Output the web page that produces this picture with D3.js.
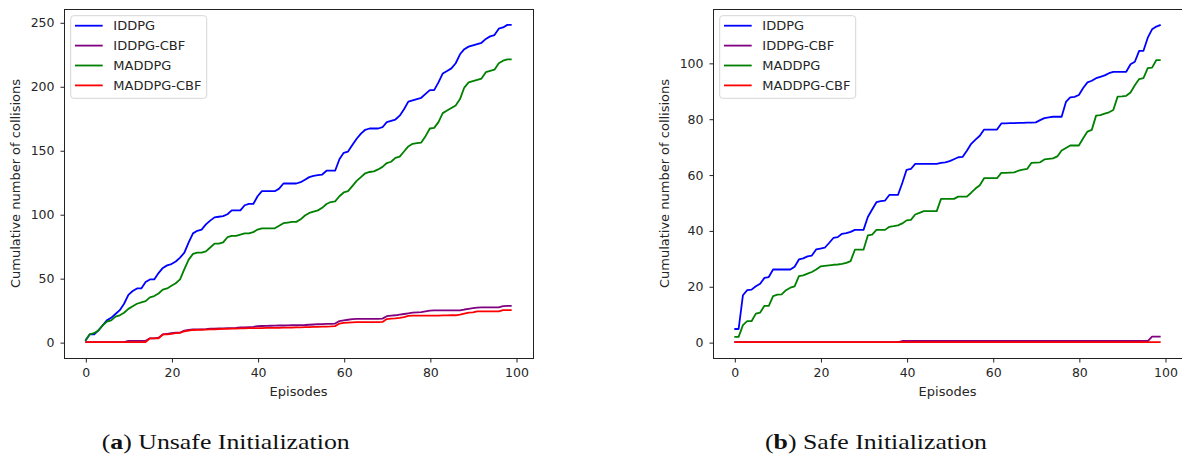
<!DOCTYPE html>
<html>
<head>
<meta charset="utf-8">
<script src="https://cdn.jsdelivr.net/npm/d3@7"></script>
<style>
  html, body { margin: 0; padding: 0; background: #fff; }
  svg { display: block; }
</style>
</head>
<body>
<svg id="chart" width="1182" height="455"></svg>
<script>
// Cumulative number of collisions per episode, four methods, two initialisations.
const seriesNames = ["IDDPG", "IDDPG-CBF", "MADDPG", "MADDPG-CBF"];
const seriesColors = ["#0000ff", "#800080", "#008000", "#ff0000"];

// (a) Unsafe initialisation
const unsafeIDDPG = [
  1, 6, 6, 9, 13, 17, 19, 22, 25, 30,
  37, 40, 42, 42, 47, 49, 49, 54, 58, 60,
  61, 63, 66, 70, 78, 85, 87, 88, 92, 95,
  97.5, 98, 98.5, 100, 103, 103, 103, 107, 108, 108,
  114, 118, 118, 118, 118, 120, 124, 124, 124, 124,
  125, 127, 129, 130, 130.5, 131, 134, 134, 134, 143,
  148, 149, 154, 159, 163, 166, 167, 167, 167, 168,
  172, 173, 174, 177, 182, 188, 189, 190, 191, 194,
  197, 197, 203, 210, 212, 214, 218, 225, 229, 231,
  232, 233, 234, 237, 239, 240, 245, 246, 248, 248
];
const unsafeIDDPGCBF = [
  0, 0, 0, 0, 0, 0, 0, 0, 0, 0,
  1, 1, 1, 1, 1, 3, 3, 3.5, 6, 6.5,
  7, 7.5, 7.5, 9, 9.5, 10, 10, 10, 10.2, 10.5,
  10.5, 10.7, 10.8, 11, 11, 11.2, 11.5, 11.5, 11.8, 12,
  12.5, 12.6, 12.7, 12.8, 12.9, 13, 13, 13.1, 13.2, 13.2,
  13.3, 13.4, 13.6, 13.8, 14, 14.1, 14.2, 14.3, 14.5, 16.5,
  17, 17.5, 18, 18.2, 18.2, 18.2, 18.2, 18.2, 18.2, 18.4,
  20.3, 20.8, 21, 21.5, 22, 22.5, 23, 23.2, 23.4, 24,
  24.6, 24.8, 24.8, 24.8, 24.8, 24.8, 24.8, 24.8, 25.5, 26,
  26.5, 27, 27.2, 27.2, 27.2, 27.2, 27.2, 28.2, 28.4, 28.4
];
const unsafeMADDPG = [
  1, 6, 7, 9, 13, 16, 17, 20, 21, 23,
  26, 28, 30, 31, 32, 35, 36, 38, 41, 42,
  44, 46, 49, 57, 64.5, 69, 70, 70, 71, 74,
  77, 77, 78, 82, 83, 83, 84, 85, 85, 86,
  88, 89, 89, 89, 89, 91, 93, 93.5, 94, 94,
  96, 99, 101, 102, 103, 105, 108, 109.5, 110, 114,
  117, 118, 122, 126, 129, 132, 133, 133.5, 135, 137,
  140, 141, 144, 145, 149, 153, 155, 155.5, 156, 161,
  167, 167.5, 172, 179, 181, 183, 185, 190, 199, 203,
  204, 205, 206, 211, 212, 213, 218, 220, 221, 221
];
const unsafeMADDPGCBF = [
  0, 0, 0, 0, 0, 0, 0, 0, 0, 0,
  0, 0, 0, 0, 0, 3, 3, 3, 6, 6,
  6.5, 7, 7.3, 8.5, 9, 9.5, 9.6, 9.7, 9.8, 9.9,
  10, 10.2, 10.3, 10.4, 10.5, 10.6, 10.7, 10.8, 10.9, 10.9,
  11, 11, 11.1, 11.1, 11.2, 11.2, 11.3, 11.3, 11.4, 11.5,
  11.6, 11.7, 11.8, 11.9, 12, 12.1, 12.2, 12.3, 12.5, 14.5,
  15, 15.3, 15.5, 15.6, 15.6, 15.6, 15.6, 15.6, 15.6, 15.8,
  18, 18.3, 18.6, 19, 19.5, 20.5, 20.8, 20.8, 20.8, 20.8,
  20.8, 20.8, 20.8, 20.9, 20.9, 21, 21, 21.5, 22.3, 23,
  23.2, 24, 24, 24, 24, 24, 24, 25, 25, 25
];

// (b) Safe initialisation
const safeIDDPG = [
  4.7, 4.7, 16.8, 18.6, 18.8, 20, 20.9, 23, 23.3, 26,
  26, 26, 26, 26, 27, 29.6, 30, 30.7, 31, 33.2,
  33.5, 33.8, 35.5, 37.3, 37.6, 38.8, 39, 39.5, 40.2, 40.2,
  40.2, 44.8, 47.5, 50.1, 50.5, 50.7, 52.7, 52.7, 52.7, 57,
  61.7, 62, 63.8, 63.8, 63.8, 63.8, 63.8, 63.8, 64.2, 64.4,
  64.8, 65.5, 66.2, 66.3, 68.5, 71, 72.5, 73.9, 76.1, 76.1,
  76.1, 76.1, 78.3, 78.3, 78.4, 78.4, 78.5, 78.5, 78.6, 78.6,
  78.7, 79.5, 80.2, 80.5, 80.7, 80.7, 80.7, 86, 87.6, 87.8,
  88.5, 91, 93, 93.6, 94.5, 95, 95.5, 96.3, 96.8, 96.8,
  96.8, 96.8, 99.5, 100.4, 104.3, 104.3, 109, 112, 113, 113.6
];
const safeIDDPGCBF = [
  0, 0, 0, 0, 0, 0, 0, 0, 0, 0,
  0, 0, 0, 0, 0, 0, 0, 0, 0, 0,
  0, 0, 0, 0, 0, 0, 0, 0, 0, 0,
  0, 0, 0, 0, 0, 0, 0, 0, 0, 0.4,
  0.4, 0.4, 0.4, 0.4, 0.4, 0.4, 0.4, 0.4, 0.4, 0.4,
  0.4, 0.4, 0.4, 0.4, 0.4, 0.4, 0.4, 0.4, 0.4, 0.4,
  0.4, 0.4, 0.4, 0.4, 0.4, 0.4, 0.4, 0.4, 0.4, 0.4,
  0.4, 0.4, 0.4, 0.4, 0.4, 0.4, 0.4, 0.4, 0.4, 0.4,
  0.4, 0.4, 0.4, 0.4, 0.4, 0.4, 0.4, 0.4, 0.4, 0.4,
  0.4, 0.4, 0.4, 0.4, 0.4, 0.4, 0.4, 2, 2, 2
];
const safeMADDPG = [
  1.9, 1.9, 6.1, 7.5, 7.5, 10.2, 10.6, 13, 13, 16.5,
  17, 17.1, 18.6, 19.5, 20, 23.6, 23.9, 24.5, 25.1, 26,
  27.1, 27.3, 27.5, 27.7, 27.8, 28, 28.4, 29, 33.1, 33.1,
  33.1, 38.2, 38.5, 40.2, 40.2, 40.2, 41.3, 41.5, 41.8, 42.5,
  43.6, 43.8, 45.7, 46.3, 46.9, 46.9, 46.9, 46.9, 51.3, 51.3,
  51.3, 51.3, 52.1, 52.1, 52.1, 53.5, 55, 56.2, 58.7, 58.7,
  58.7, 58.7, 60.6, 60.6, 60.7, 60.8, 61.4, 61.8, 62, 64.2,
  64.3, 64.4, 65.4, 65.6, 65.8, 66.5, 68.6, 69.5, 70.4, 70.4,
  70.4, 73, 75.4, 76, 81.1, 81.3, 81.8, 82.3, 83.1, 87.9,
  88, 88.2, 89.4, 92, 94.2, 94.5, 98.1, 98.3, 101, 101
];
const safeMADDPGCBF = [
  0, 0, 0, 0, 0, 0, 0, 0, 0, 0,
  0, 0, 0, 0, 0, 0, 0, 0, 0, 0,
  0, 0, 0, 0, 0, 0, 0, 0, 0, 0,
  0, 0, 0, 0, 0, 0, 0, 0, 0, 0,
  0, 0, 0, 0, 0, 0, 0, 0, 0, 0,
  0, 0, 0, 0, 0, 0, 0, 0, 0, 0,
  0, 0, 0, 0, 0, 0, 0, 0, 0, 0,
  0, 0, 0, 0, 0, 0, 0, 0, 0, 0,
  0, 0, 0, 0, 0, 0, 0, 0, 0, 0,
  0, 0, 0, 0, 0, 0, 0, 0, 0, 0
];

const xTicks = [0, 20, 40, 60, 80, 100];
const unsafeYTicks = [0, 50, 100, 150, 200, 250];
const safeYTicks = [0, 20, 40, 60, 80, 100];
const xLabel = "Episodes";
const yLabel = "Cumulative number of collisions";

const panels = [
  { left: 64, series: [unsafeIDDPG, unsafeIDDPGCBF, unsafeMADDPG, unsafeMADDPGCBF],
    yTicks: unsafeYTicks, tag: "a", caption: " Unsafe Initialization",
    capX: 101.7, capW: 248 },
  { left: 713, series: [safeIDDPG, safeIDDPGCBF, safeMADDPG, safeMADDPGCBF],
    yTicks: safeYTicks, tag: "b", caption: " Safe Initialization",
    capX: 765, capW: 222 }
];

const axW = 469, axTop = 9, axBottom = 358;
const tickFont = "DejaVu Sans, sans-serif";
const textColor = "#262626";
const svg = d3.select("#chart");

panels.forEach(p => {
  const g = svg.append("g");
  const n = p.series[0].length;
  const xMargin = 0.05 * (n - 1);
  const x = d3.scaleLinear()
    .domain([-xMargin, n - 1 + xMargin])
    .range([p.left, p.left + axW]);
  const all = p.series.flat();
  const lo = d3.min(all), hi = d3.max(all);
  const yPad = 0.05 * (hi - lo);
  const y = d3.scaleLinear()
    .domain([lo - yPad, hi + yPad])
    .range([axBottom, axTop]);

  // data lines
  const line = d3.line().x((d, i) => x(i)).y(d => y(d));
  p.series.forEach((s, k) => {
    g.append("path")
      .datum(s)
      .attr("d", line)
      .attr("fill", "none")
      .attr("stroke", seriesColors[k])
      .attr("stroke-width", 1.8)
      .attr("stroke-linejoin", "round")
      .attr("stroke-linecap", "butt");
  });

  // axes frame
  g.append("rect")
    .attr("x", p.left + 0.5).attr("y", axTop + 0.5)
    .attr("width", axW).attr("height", axBottom - axTop)
    .attr("fill", "none").attr("stroke", "#222").attr("stroke-width", 1);

  const xAxis = g.append("g")
    .attr("transform", `translate(0.5,${axBottom + 0.5})`)
    .call(d3.axisBottom(x).tickValues(xTicks).tickSize(4).tickPadding(5.5).tickFormat(d3.format("d")));
  const yAxis = g.append("g")
    .attr("transform", `translate(${p.left + 0.5},0.5)`)
    .call(d3.axisLeft(y).tickValues(p.yTicks).tickSize(4).tickPadding(6).tickFormat(d3.format("d")));
  [xAxis, yAxis].forEach(a => {
    a.select(".domain").remove();
    a.selectAll(".tick line").attr("stroke", "#222");
    a.selectAll(".tick text")
      .attr("fill", textColor)
      .style("font-family", tickFont)
      .style("font-size", "12.5px");
  });

  // axis titles
  g.append("text")
    .attr("x", p.left + axW / 2).attr("y", 396)
    .attr("text-anchor", "middle")
    .attr("fill", textColor)
    .style("font-family", tickFont).style("font-size", "13px")
    .text(xLabel);
  g.append("text")
    .attr("transform", `translate(${p.left - 49},${(axTop + axBottom) / 2}) rotate(-90)`)
    .attr("text-anchor", "middle")
    .attr("dominant-baseline", "central")
    .attr("fill", textColor)
    .style("font-family", tickFont).style("font-size", "13px")
    .text(yLabel);

  // legend
  const lg = g.append("g").attr("transform", `translate(${p.left + 6.7},15.7)`);
  lg.append("rect")
    .attr("width", 136).attr("height", 82.6).attr("rx", 3)
    .attr("fill", "#fff").attr("fill-opacity", 0.8)
    .attr("stroke", "#d6d6d6").attr("stroke-width", 1);
  seriesNames.forEach((name, k) => {
    const ry = 10 + k * 19.9;
    lg.append("line")
      .attr("x1", 4.3).attr("x2", 32).attr("y1", ry).attr("y2", ry)
      .attr("stroke", seriesColors[k]).attr("stroke-width", 1.8);
    lg.append("text")
      .attr("x", 42.6).attr("y", ry)
      .attr("dominant-baseline", "central")
      .attr("fill", textColor)
      .style("font-family", tickFont).style("font-size", "13px")
      .text(name);
  });

  // sub-figure caption
  const cap = g.append("text")
    .attr("x", p.capX).attr("y", 449)
    .attr("textLength", p.capW)
    .attr("lengthAdjust", "spacingAndGlyphs")
    .attr("fill", "#111")
    .style("font-family", "Liberation Serif, serif")
    .style("font-size", "22px");
  cap.append("tspan").text("(");
  cap.append("tspan").style("font-weight", "bold").text(p.tag);
  cap.append("tspan").text(")" + p.caption);
});
</script>
</body>
</html>
